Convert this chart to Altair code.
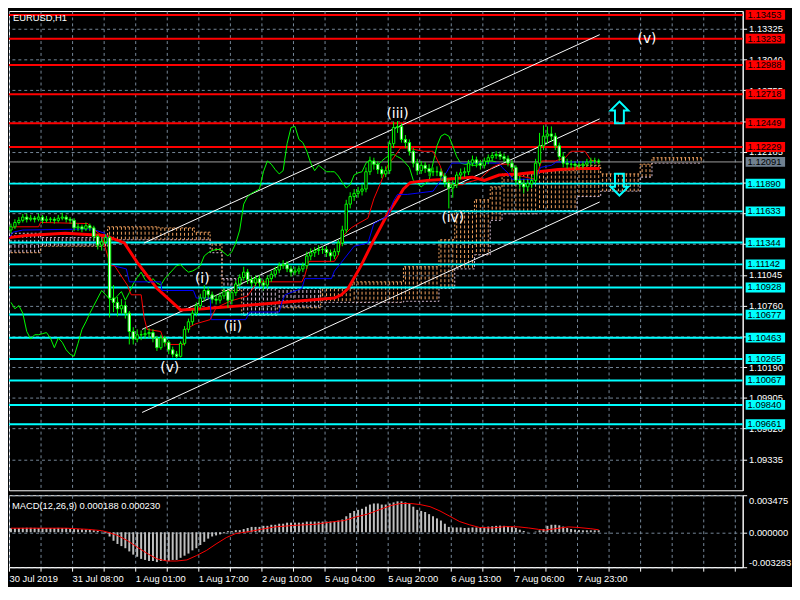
import altair as alt
import pandas as pd

# ---------------- values ----------------
SYMBOL_TITLE = "EURUSD,H1"

OPEN = [
    1.1146, 1.1149, 1.1153, 1.1155, 1.1158, 1.1156, 1.1157, 1.1156, 1.1158, 1.1155,
    1.1156, 1.1156, 1.1155, 1.1157, 1.1158, 1.1156, 1.1155, 1.1148, 1.1149, 1.1147,
    1.1150, 1.1148, 1.1140, 1.1132, 1.1135, 1.1139, 1.1083, 1.1079, 1.1073, 1.1076,
    1.1069, 1.1052, 1.1045, 1.1049, 1.1049, 1.1050, 1.1051, 1.1046, 1.1037, 1.1046,
    1.1042, 1.1035, 1.1031, 1.1029, 1.1041, 1.1054, 1.1061, 1.1069, 1.1076, 1.1083,
    1.1090, 1.1086, 1.1082, 1.1081, 1.1085, 1.1089, 1.1081, 1.1088, 1.1096, 1.1102,
    1.1107, 1.1100, 1.1097, 1.1101, 1.1097, 1.1095, 1.1101, 1.1105, 1.1109, 1.1113,
    1.1114, 1.1110, 1.1107, 1.1108, 1.1110, 1.1113, 1.1122, 1.1125, 1.1127, 1.1128,
    1.1128, 1.1125, 1.1122, 1.1126, 1.1134, 1.1146, 1.1170, 1.1177, 1.1180, 1.1182,
    1.1184, 1.1200, 1.1210, 1.1207, 1.1202, 1.1198, 1.1201, 1.1226, 1.1241, 1.1242,
    1.1230, 1.1227, 1.1219, 1.1208, 1.1201, 1.1206, 1.1203, 1.1200, 1.1200, 1.1200,
    1.1196, 1.1190, 1.1185, 1.1188, 1.1197, 1.1199, 1.1200, 1.1208, 1.1211, 1.1208,
    1.1206, 1.1210, 1.1213, 1.1215, 1.1216, 1.1214, 1.1212, 1.1208, 1.1204, 1.1192,
    1.1189, 1.1186, 1.1189, 1.1192, 1.1208, 1.1224, 1.1233, 1.1235, 1.1233, 1.1224,
    1.1214, 1.1208, 1.1207, 1.1207, 1.1206, 1.1206, 1.1207, 1.1209, 1.1210, 1.1210,
]
HIGH = [
    1.1152, 1.1156, 1.1158, 1.1161, 1.1161, 1.1160, 1.1159, 1.1161, 1.1160, 1.1159,
    1.1158, 1.1158, 1.1160, 1.1162, 1.1160, 1.1158, 1.1157, 1.1152, 1.1151, 1.1153,
    1.1152, 1.1150, 1.1142, 1.1138, 1.1142, 1.1141, 1.1095, 1.1084, 1.1082, 1.1080,
    1.1071, 1.1056, 1.1054, 1.1053, 1.1055, 1.1055, 1.1054, 1.1048, 1.1049, 1.1048,
    1.1044, 1.1038, 1.1034, 1.1043, 1.1057, 1.1064, 1.1072, 1.1079, 1.1087, 1.1095,
    1.1093, 1.1089, 1.1086, 1.1088, 1.1092, 1.1091, 1.1091, 1.1099, 1.1105, 1.1112,
    1.1110, 1.1103, 1.1104, 1.1104, 1.1100, 1.1104, 1.1108, 1.1112, 1.1116, 1.1118,
    1.1117, 1.1113, 1.1112, 1.1113, 1.1116, 1.1126, 1.1129, 1.1130, 1.1132, 1.1131,
    1.1131, 1.1128, 1.1129, 1.1137, 1.1150, 1.1174, 1.1181, 1.1184, 1.1186, 1.1189,
    1.1204, 1.1214, 1.1213, 1.1210, 1.1205, 1.1205, 1.1229, 1.1246, 1.1247, 1.1245,
    1.1234, 1.1230, 1.1222, 1.1212, 1.1210, 1.1209, 1.1207, 1.1204, 1.1205, 1.1203,
    1.1199, 1.1193, 1.1192, 1.1200, 1.1203, 1.1204, 1.1211, 1.1215, 1.1214, 1.1211,
    1.1213, 1.1216, 1.1218, 1.1219, 1.1219, 1.1217, 1.1215, 1.1211, 1.1206, 1.1196,
    1.1193, 1.1193, 1.1196, 1.1212, 1.1236, 1.1243, 1.1242, 1.1242, 1.1236, 1.1227,
    1.1218, 1.1212, 1.1211, 1.1210, 1.1210, 1.1210, 1.1212, 1.1213, 1.1213, 1.1212,
]
LOW = [
    1.1143, 1.1147, 1.1151, 1.1153, 1.1153, 1.1154, 1.1153, 1.1154, 1.1152, 1.1153,
    1.1153, 1.1152, 1.1153, 1.1155, 1.1153, 1.1152, 1.1145, 1.1145, 1.1144, 1.1145,
    1.1145, 1.1137, 1.1128, 1.1127, 1.1133, 1.1065, 1.1070, 1.1066, 1.1068, 1.1064,
    1.1040, 1.1040, 1.1042, 1.1044, 1.1045, 1.1046, 1.1042, 1.1034, 1.1035, 1.1038,
    1.1031, 1.1028, 1.1027, 1.1028, 1.1039, 1.1051, 1.1058, 1.1066, 1.1073, 1.1080,
    1.1082, 1.1078, 1.1077, 1.1078, 1.1082, 1.1074, 1.1077, 1.1085, 1.1093, 1.1099,
    1.1096, 1.1093, 1.1094, 1.1093, 1.1090, 1.1092, 1.1098, 1.1102, 1.1106, 1.1110,
    1.1107, 1.1103, 1.1104, 1.1105, 1.1107, 1.1110, 1.1118, 1.1121, 1.1123, 1.1124,
    1.1121, 1.1117, 1.1119, 1.1123, 1.1131, 1.1143, 1.1166, 1.1173, 1.1176, 1.1178,
    1.1181, 1.1197, 1.1202, 1.1198, 1.1194, 1.1195, 1.1198, 1.1222, 1.1236, 1.1227,
    1.1222, 1.1215, 1.1204, 1.1197, 1.1198, 1.1199, 1.1196, 1.1196, 1.1196, 1.1192,
    1.1186, 1.1166, 1.1176, 1.1185, 1.1193, 1.1195, 1.1197, 1.1205, 1.1204, 1.1202,
    1.1203, 1.1207, 1.1210, 1.1212, 1.1211, 1.1209, 1.1205, 1.1200, 1.1188, 1.1184,
    1.1180, 1.1182, 1.1185, 1.1189, 1.1205, 1.1220, 1.1226, 1.1228, 1.1220, 1.1210,
    1.1204, 1.1203, 1.1203, 1.1202, 1.1203, 1.1203, 1.1205, 1.1206, 1.1207, 1.1207,
]
CLOSE = [
    1.1149, 1.1153, 1.1155, 1.1158, 1.1156, 1.1157, 1.1156, 1.1158, 1.1155, 1.1156,
    1.1156, 1.1155, 1.1157, 1.1158, 1.1156, 1.1155, 1.1148, 1.1149, 1.1147, 1.1150,
    1.1148, 1.1140, 1.1132, 1.1135, 1.1139, 1.1083, 1.1079, 1.1073, 1.1076, 1.1069,
    1.1052, 1.1045, 1.1049, 1.1049, 1.1050, 1.1051, 1.1046, 1.1037, 1.1046, 1.1042,
    1.1035, 1.1031, 1.1029, 1.1041, 1.1054, 1.1061, 1.1069, 1.1076, 1.1083, 1.1090,
    1.1086, 1.1082, 1.1081, 1.1085, 1.1089, 1.1081, 1.1088, 1.1096, 1.1102, 1.1107,
    1.1100, 1.1097, 1.1101, 1.1097, 1.1095, 1.1101, 1.1105, 1.1109, 1.1113, 1.1114,
    1.1110, 1.1107, 1.1108, 1.1110, 1.1113, 1.1122, 1.1125, 1.1127, 1.1128, 1.1128,
    1.1125, 1.1122, 1.1126, 1.1134, 1.1146, 1.1170, 1.1177, 1.1180, 1.1182, 1.1184,
    1.1200, 1.1210, 1.1207, 1.1202, 1.1198, 1.1201, 1.1226, 1.1241, 1.1242, 1.1230,
    1.1227, 1.1219, 1.1208, 1.1201, 1.1206, 1.1203, 1.1200, 1.1200, 1.1200, 1.1196,
    1.1190, 1.1185, 1.1188, 1.1197, 1.1199, 1.1200, 1.1208, 1.1211, 1.1208, 1.1206,
    1.1210, 1.1213, 1.1215, 1.1216, 1.1214, 1.1212, 1.1208, 1.1204, 1.1192, 1.1189,
    1.1186, 1.1189, 1.1192, 1.1208, 1.1224, 1.1233, 1.1235, 1.1233, 1.1224, 1.1214,
    1.1208, 1.1207, 1.1207, 1.1206, 1.1206, 1.1207, 1.1209, 1.1210, 1.1210, 1.1209,
]
CHIKOU_SHIFT = 26

TENKAN_BARS = [-0.5, 1.25, 7, 7.5, 19.5, 20.5, 23, 25.25, 26.25, 29.5, 30.5, 33, 33.75, 34.5, 38,
               38.75, 39.5, 43.75, 44.25, 46.75, 50.5, 52, 55.5, 60, 62.5, 73.75, 74.5, 75.5, 82, 83,
               83.75, 86.25, 88, 90.5, 92, 93.75, 95.5, 97, 98.75, 100.5, 104.5, 107, 108.75, 110, 112,
               114.5, 115.5, 118.75, 122, 123.75, 126.25, 127, 128, 133, 134.5, 138, 140.5, 142, 145.5,
               147, 149.25]
TENKAN = [1.1148, 1.1149, 1.1149, 1.1153, 1.1152, 1.1148, 1.1141, 1.1113, 1.1113, 1.1095, 1.1086,
          1.1086, 1.1065, 1.1054, 1.1052, 1.1043, 1.1040, 1.1040, 1.1054, 1.1059, 1.1063, 1.1074,
          1.1080, 1.1085, 1.1098, 1.1098, 1.1104, 1.1117, 1.1117, 1.1123, 1.1139, 1.1148, 1.1152,
          1.1157, 1.1175, 1.1190, 1.1206, 1.1213, 1.1222, 1.1222, 1.1219, 1.1219, 1.1206, 1.1193,
          1.1188, 1.1188, 1.1190, 1.1193, 1.1204, 1.1207, 1.1207, 1.1204, 1.1197, 1.1193, 1.1210,
          1.1210, 1.1213, 1.1219, 1.1219, 1.1211, 1.1208]

KIJUN_BARS = [-0.5, 0.5, 3, 20.5, 23.75, 24.5, 25.25, 27, 29.25, 30, 38, 38.25, 46.25, 47, 50.5,
              50.75, 59.5, 60.5, 68, 68.75, 69.5, 73.75, 74.5, 81.25, 82, 83.75, 87, 90.5, 92, 95.5,
              97, 98, 100.5, 107, 110.5, 111.75, 123.75, 124.5, 126.25, 127, 133, 134.25, 137, 138.25,
              149.25]
KIJUN = [1.1139, 1.1144, 1.1146, 1.1147, 1.1143, 1.1139, 1.1114, 1.1112, 1.1110, 1.1098, 1.1098,
         1.1090, 1.1090, 1.1083, 1.1083, 1.1063, 1.1063, 1.1070, 1.1070, 1.1080, 1.1086, 1.1092,
         1.1101, 1.1101, 1.1108, 1.1116, 1.1131, 1.1134, 1.1152, 1.1159, 1.1173, 1.1179, 1.1179,
         1.1182, 1.1200, 1.1208, 1.1208, 1.1204, 1.1198, 1.1193, 1.1193, 1.1204, 1.1206, 1.1209,
         1.1209]

MA_BARS = [-0.5, 3.75, 13.75, 23.75, 28.75, 32, 37, 43, 48.75, 58.75, 82, 83.75, 85.5, 88.75, 92,
           95.5, 98, 99.5, 101.25, 105.5, 110.5, 117, 120, 123.75, 128.75, 133.75, 138.75, 143.75,
           149.25]
MA = [1.1139, 1.1141, 1.1143, 1.1141, 1.1134, 1.1116, 1.1092, 1.1072, 1.1073, 1.1076, 1.1083,
      1.1086, 1.1092, 1.1113, 1.1137, 1.1161, 1.1175, 1.1184, 1.1190, 1.1192, 1.1193, 1.1195,
      1.1192, 1.1197, 1.1198, 1.1200, 1.1202, 1.1203, 1.1203]

# Ichimoku cloud, read as runs of bars with constant span values
CLOUD_START = [0, 8, 25, 38, 47, 51, 54, 59, 68, 79, 87, 100, 109, 113, 118, 122, 125, 134, 144, 150, 160, 163]
CLOUD_END = [7, 24, 37, 46, 50, 53, 58, 67, 78, 86, 99, 108, 112, 117, 121, 124, 133, 143, 149, 159, 162, 175]
SPAN_A = [1.1125, 1.1131, 1.1149, 1.1148, 1.1144, 1.1134, 1.1090, 1.1067, 1.1074, 1.1092, 1.1098,
          1.1112, 1.1137, 1.1164, 1.1174, 1.1186, 1.1198, 1.1201, 1.1206, 1.1198, 1.1207, 1.1213]
SPAN_B = [1.1143, 1.1139, 1.1137, 1.1137, 1.1137, 1.1125, 1.1101, 1.1092, 1.1092, 1.1079, 1.1079,
          1.1080, 1.1092, 1.1110, 1.1123, 1.1155, 1.1161, 1.1164, 1.1177, 1.1182, 1.1195, 1.1208]

RED_LEVELS = [1.13453, 1.13233, 1.12988, 1.12718, 1.12449, 1.12229]
CYAN_LEVELS = [1.11890, 1.11633, 1.11344, 1.11142, 1.10928, 1.10677, 1.10463, 1.10265, 1.10067,
               1.09840, 1.09661]
LAST_PRICE = 1.12091

PRICE_TICKS = [1.09335, 1.09620, 1.09905, 1.10190, 1.10475, 1.10760, 1.11045, 1.11330, 1.11615,
               1.11900, 1.12185, 1.12470, 1.12755, 1.13040, 1.13325]
# tick labels that sit completely under a level box in the reference
HIDDEN_TICK_LABELS = ["1.10475", "1.11330", "1.11615", "1.11900", "1.12470"]

CHANNEL_START_BAR = [33.75, 33.25, 33.25]
CHANNEL_START_PRICE = [1.1134, 1.1054, 1.0977]
CHANNEL_END_BAR = [149.25, 149.25, 149.25]
CHANNEL_END_PRICE = [1.1327, 1.1249, 1.1172]

WAVE_TEXT = ["(i)", "(ii)", "(iii)", "(iv)", "(v)", "(v)"]
WAVE_BAR = [48.5, 56.25, 98, 112, 40.25, 161.25]
WAVE_PRICE = [1.1101, 1.1056, 1.1253, 1.1157, 1.1018, 1.1323]

ARROW_UP_BAR, ARROW_UP_PRICE = [154.25], [1.1255]
ARROW_DN_BAR, ARROW_DN_PRICE = [154.25], [1.1188]

MACD_HIST = [
    0.00038, 0.00038, 0.00040, 0.00041, 0.00042, 0.00042, 0.00041, 0.00040, 0.00040, 0.00039,
    0.00040, 0.00040, 0.00041, 0.00040, 0.00040, 0.00032, 0.00030, 0.00028, 0.00027, 0.00025,
    0.00022, 0.00018, 0.00012, 0.00005, -0.00010, -0.00040, -0.00080, -0.00110, -0.00130, -0.00150,
    -0.00180, -0.00210, -0.00230, -0.00250, -0.00260, -0.00270, -0.00270, -0.00280, -0.00270, -0.00270,
    -0.00270, -0.00260, -0.00260, -0.00240, -0.00220, -0.00200, -0.00170, -0.00150, -0.00120, -0.00090,
    -0.00060, -0.00040, -0.00030, -0.00020, -0.00010, 0.00010, 0.00010, 0.00020, 0.00020, 0.00030,
    0.00040, 0.00050, 0.00050, 0.00050, 0.00060, 0.00060, 0.00070, 0.00070, 0.00080, 0.00080,
    0.00090, 0.00090, 0.00090, 0.00090, 0.00090, 0.00100, 0.00100, 0.00100, 0.00100, 0.00100,
    0.00100, 0.00100, 0.00100, 0.00110, 0.00120, 0.00150, 0.00180, 0.00200, 0.00210, 0.00220,
    0.00240, 0.00260, 0.00270, 0.00270, 0.00260, 0.00260, 0.00270, 0.00280, 0.00290, 0.00290,
    0.00280, 0.00270, 0.00240, 0.00210, 0.00200, 0.00190, 0.00170, 0.00150, 0.00130, 0.00110,
    0.00080, 0.00050, 0.00045, 0.00045, 0.00045, 0.00040, 0.00042, 0.00045, 0.00045, 0.00045,
    0.00050, 0.00053, 0.00056, 0.00060, 0.00062, 0.00060, 0.00053, 0.00050, 0.00040, 0.00024,
    0.00012, 0.00003, 0.00000, 0.00006, 0.00018, 0.00030, 0.00060, 0.00070, 0.00070, 0.00065,
    0.00053, 0.00040, 0.00030, 0.00024, 0.00020, 0.00018, 0.00018, 0.00018, 0.00018, 0.000188,
]
SIGNAL_BARS = [0, 14, 19.6, 23, 24.6, 27, 29.6, 32, 34.6, 37, 39.6, 42, 44.6, 47, 49.6, 52, 54.6, 57,
               60.4, 63.75, 67, 72, 77, 82, 84.6, 87, 90.4, 94, 96.25, 98.75, 101.25, 103.75, 106.25,
               108.75, 111.25, 113.75, 116.25, 118.75, 122, 125.4, 128.75, 131.25, 133.75, 135.4, 138,
               141.25, 143.75, 147, 149]
SIGNAL = [0.00038, 0.00038, 0.00027, 0.00015, 0.0, -0.0003, -0.0008, -0.0014, -0.0020, -0.0025,
          -0.0027, -0.0027, -0.0026, -0.0022, -0.0017, -0.0011, -0.0005, -0.00012, 0.00006, 0.0003,
          0.0005, 0.00065, 0.00074, 0.0010, 0.0011, 0.0014, 0.0017, 0.0022, 0.0025, 0.0027,
          0.0027, 0.0026, 0.0024, 0.0020, 0.0015, 0.0010, 0.0007, 0.00045, 0.0004, 0.00053,
          0.0005, 0.0004, 0.00027, 0.0002, 0.00033, 0.0005, 0.00045, 0.00033, 0.00023]
MACD_LABEL = "MACD(12,26,9) 0.000188 0.000230"
MACD_TICKS = [-0.003283, 0.0, 0.003475]

DATE_BARS = [0, 16, 32, 48, 64, 80, 96, 112, 128, 144]
DATE_LABELS = ["30 Jul 2019", "31 Jul 08:00", "1 Aug 01:00", "1 Aug 17:00", "2 Aug 10:00",
               "5 Aug 04:00", "5 Aug 20:00", "6 Aug 13:00", "7 Aug 06:00", "7 Aug 23:00"]

# ---------------- layout / style ----------------
W, H, HM = 744, 486, 73
XDOM = [-0.5, 185.5]
PDOM = [1.09049, 1.13489]
MDOM = [-0.003283, 0.003475]
FONT = "Liberation Sans"
GRID = "#778899"
XGRID = [-0.5 + 8 * k for k in range(24)]

xs = alt.Scale(domain=XDOM, nice=False, zero=False)
ys = alt.Scale(domain=PDOM, nice=False, zero=False)
ms = alt.Scale(domain=MDOM, nice=False, zero=False)

hidden = "[" + ",".join(f"'{t}'" for t in HIDDEN_TICK_LABELS) + "]"
price_label_expr = f"indexof({hidden}, format(datum.value, '.5f')) >= 0 ? '' : format(datum.value, '.5f')"

ax_px = alt.Axis(values=XGRID, labels=False, ticks=False, domain=False, grid=True,
                 gridColor=GRID, gridDash=[3, 3])
ax_py = alt.Axis(orient="right", values=PRICE_TICKS, labelExpr=price_label_expr, labelColor="white",
                 labelFont=FONT, labelFontSize=9.5, labelPadding=2, tickColor="white", tickSize=4,
                 domainColor="white", grid=True, gridColor=GRID, gridDash=[3, 3], labelOverlap=False)

date_expr = " : ".join(f"datum.value == {b - 0.5} ? '{t}'" for b, t in zip(DATE_BARS, DATE_LABELS)) + " : ''"
ax_mx = alt.Axis(values=XGRID, labelExpr=date_expr, labelAlign="left", labelColor="white",
                 labelFont=FONT, labelFontSize=9.5, labelPadding=2, tickColor="white", tickSize=4,
                 domainColor="white", grid=True, gridColor=GRID, gridDash=[3, 3], labelOverlap=False)
ax_my = alt.Axis(orient="right", values=MACD_TICKS,
                 labelExpr="replace(format(datum.value, '.6f'), '\u2212', '-')",
                 labelFlush=True, labelColor="white", labelFont=FONT, labelFontSize=9.5,
                 labelPadding=2, tickColor="white", tickSize=4, domainColor="white", grid=True,
                 gridColor=GRID, gridDash=[3, 3], labelOverlap=False)


def PX(f):
    return alt.X(f"{f}:Q", scale=xs, axis=ax_px, title=None)


def PY(f):
    return alt.Y(f"{f}:Q", scale=ys, axis=ax_py, title=None)


def MX(f):
    return alt.X(f"{f}:Q", scale=xs, axis=ax_mx, title=None)


def MY(f):
    return alt.Y(f"{f}:Q", scale=ms, axis=ax_my, title=None)


# ---------------- tables ----------------
bars = pd.DataFrame({"i": list(range(len(CLOSE))), "o": OPEN, "h": HIGH, "l": LOW, "c": CLOSE})
chikou = pd.DataFrame({"i": [k - CHIKOU_SHIFT for k in range(CHIKOU_SHIFT, len(CLOSE))],
                       "c": CLOSE[CHIKOU_SHIFT:]})
cloud_rows = []
for s, e, a, b in zip(CLOUD_START, CLOUD_END, SPAN_A, SPAN_B):
    for i in range(s, e + 1):
        cloud_rows.append({"i": i, "a": a, "b": b})
cloud = pd.DataFrame(cloud_rows)
tenkan = pd.DataFrame({"i": TENKAN_BARS, "p": TENKAN})
kijun = pd.DataFrame({"i": KIJUN_BARS, "p": KIJUN})
ma = pd.DataFrame({"i": MA_BARS, "p": MA})
red_lv = pd.DataFrame({"p": RED_LEVELS, "lab": [f"{v:.5f}" for v in RED_LEVELS]})
cyan_lv = pd.DataFrame({"p": CYAN_LEVELS, "lab": [f"{v:.5f}" for v in CYAN_LEVELS]})
last_lv = pd.DataFrame({"p": [LAST_PRICE], "lab": [f"{LAST_PRICE:.5f}"]})
channel = pd.DataFrame({"i0": CHANNEL_START_BAR, "p0": CHANNEL_START_PRICE,
                        "i1": CHANNEL_END_BAR, "p1": CHANNEL_END_PRICE})
waves = pd.DataFrame({"i": WAVE_BAR, "p": WAVE_PRICE, "t": WAVE_TEXT})
arr_up = pd.DataFrame({"i": ARROW_UP_BAR, "p": ARROW_UP_PRICE})
arr_dn = pd.DataFrame({"i": ARROW_DN_BAR, "p": ARROW_DN_PRICE})
macd = pd.DataFrame({"i": list(range(len(MACD_HIST))), "v": MACD_HIST})
signal = pd.DataFrame({"i": SIGNAL_BARS, "v": SIGNAL})

UP_PATH = "M0,-1L0.82,-0.18L0.41,-0.18L0.41,1L-0.41,1L-0.41,-0.18L-0.82,-0.18Z"
DN_PATH = "M0,1L0.82,0.18L0.41,0.18L0.41,-1L-0.41,-1L-0.41,0.18L-0.82,0.18Z"

# ---------------- main panel ----------------
cloud_rules = alt.Chart(cloud).mark_rule(strokeWidth=1, strokeDash=[3, 2]).encode(
    x=PX("i"), y=PY("a"), y2=alt.Y2("b"),
    color=alt.condition("datum.a >= datum.b", alt.value("#F4A460"), alt.value("#D8BFD8")))
span_a = alt.Chart(cloud).mark_line(color="#F4A460", strokeWidth=1, strokeDash=[2, 2],
                                    interpolate="step").encode(x=PX("i"), y=PY("a"))
span_b = alt.Chart(cloud).mark_line(color="#D8BFD8", strokeWidth=1, strokeDash=[2, 2],
                                    interpolate="step").encode(x=PX("i"), y=PY("b"))
red_lines = alt.Chart(red_lv).mark_rule(color="#FF0000", strokeWidth=2).encode(y=PY("p"))
cyan_lines = alt.Chart(cyan_lv).mark_rule(color="#00FFFF", strokeWidth=2).encode(y=PY("p"))
last_line = alt.Chart(last_lv).mark_rule(color="#A0A0A0", strokeWidth=1).encode(y=PY("p"))
chan = alt.Chart(channel).mark_rule(color="white", strokeWidth=1).encode(
    x=PX("i0"), y=PY("p0"), x2=alt.X2("i1"), y2=alt.Y2("p1"))
chik = alt.Chart(chikou).mark_line(color="#00FF00", strokeWidth=1).encode(x=PX("i"), y=PY("c"))
ma_line = alt.Chart(ma).mark_line(color="#FF0000", strokeWidth=3, clip=True).encode(x=PX("i"), y=PY("p"))
kij_line = alt.Chart(kijun).mark_line(color="#0000FF", strokeWidth=1, clip=True).encode(x=PX("i"), y=PY("p"))
ten_line = alt.Chart(tenkan).mark_line(color="#FF0000", strokeWidth=1, clip=True).encode(x=PX("i"), y=PY("p"))
wicks = alt.Chart(bars).mark_rule(color="#00FF00", strokeWidth=1).encode(
    x=PX("i"), y=PY("l"), y2=alt.Y2("h"))
bodies = alt.Chart(bars).transform_calculate(
    xl="datum.i - 0.3", xr="datum.i + 0.3").mark_rect(stroke="#00FF00", strokeWidth=1).encode(
    x=PX("xl"), x2=alt.X2("xr"), y=PY("o"), y2=alt.Y2("c"),
    fill=alt.condition("datum.c < datum.o", alt.value("white"), alt.value("black")))
wave_txt = alt.Chart(waves).mark_text(font="DejaVu Sans", fontSize=14, color="white",
                                      baseline="middle", align="center").encode(
    x=PX("i"), y=PY("p"), text="t:N")
up_arrow = alt.Chart(arr_up).mark_point(shape=UP_PATH, size=484, filled=False, color="#00FFFF",
                                         strokeWidth=2, opacity=1).encode(x=PX("i"), y=PY("p"))
dn_arrow = alt.Chart(arr_dn).mark_point(shape=DN_PATH, size=484, filled=False, color="#00FFFF",
                                         strokeWidth=2, opacity=1).encode(x=PX("i"), y=PY("p"))


def box_layers(df, fill):
    rect = alt.Chart(df).mark_rect(color=fill, yOffset=-5, y2Offset=5).encode(
        x=alt.value(W + 3), x2=alt.value(W + 43), y=PY("p"), y2=alt.Y2("p"))
    txt = alt.Chart(df).mark_text(font=FONT, fontSize=9.5, color="black", align="left",
                                  baseline="middle").encode(
        x=alt.value(W + 5), y=PY("p"), text="lab:N")
    return [rect, txt]


title = alt.Chart(pd.DataFrame({"t": [SYMBOL_TITLE]})).mark_text(
    font=FONT, fontSize=9.5, color="white", align="left", baseline="middle").encode(
    x=alt.value(4), y=alt.value(7), text="t:N")

main = alt.layer(
    cloud_rules, span_a, span_b, red_lines, cyan_lines, last_line, chan, chik, ma_line,
    kij_line, ten_line, wicks, bodies, wave_txt, up_arrow, dn_arrow,
    *box_layers(red_lv, "#FF0000"), *box_layers(cyan_lv, "#00FFFF"),
    *box_layers(last_lv, "#708090"), title,
).properties(width=W, height=H)

# ---------------- MACD panel ----------------
hist = alt.Chart(macd).transform_calculate(
    xl="datum.i - 0.25", xr="datum.i + 0.25", z="0").mark_rect(color="#C0C0C0").encode(
    x=MX("xl"), x2=alt.X2("xr"), y=MY("v"), y2=alt.Y2("z"))
sig = alt.Chart(signal).mark_line(color="#FF0000", strokeWidth=1).encode(x=MX("i"), y=MY("v"))
mlabel = alt.Chart(pd.DataFrame({"t": [MACD_LABEL]})).mark_text(
    font=FONT, fontSize=9.5, color="white", align="left", baseline="middle").encode(
    x=alt.value(3), y=alt.value(11), text="t:N")
macd_panel = alt.layer(hist, sig, mlabel).properties(width=W, height=HM)

chart = alt.vconcat(main, macd_panel, spacing=3).properties(
    background="black", padding={"left": -1, "top": -3, "right": 0, "bottom": 0}
).configure_view(stroke="white", strokeWidth=1)

chart.save("out.html", embed_options={"renderer": "svg", "actions": False})
